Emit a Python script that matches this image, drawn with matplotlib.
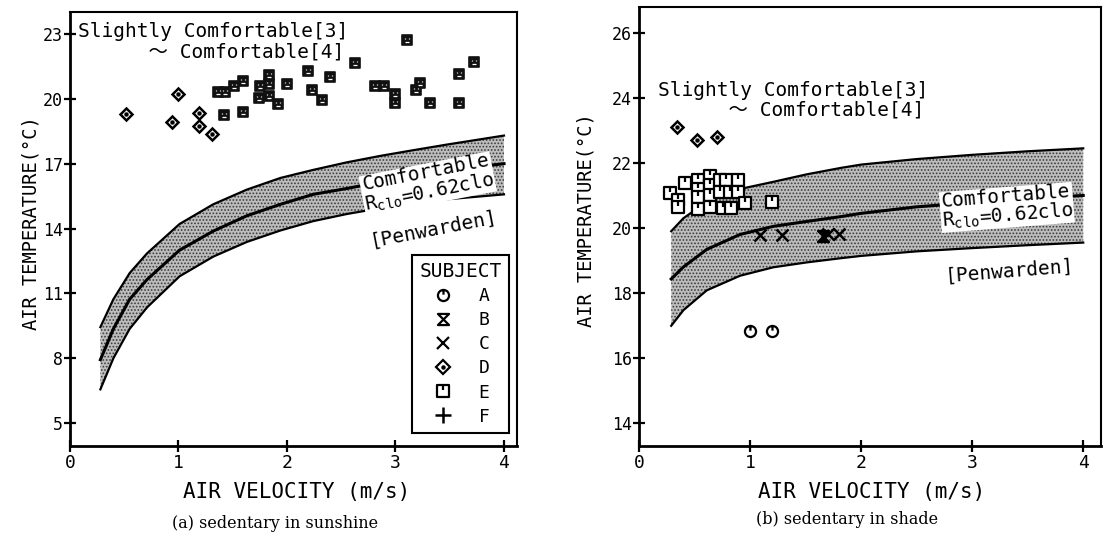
import matplotlib
matplotlib.use("Agg")
import matplotlib.pyplot as plt
from matplotlib.path import Path
from matplotlib.lines import Line2D
from matplotlib.legend_handler import HandlerTuple

plt.rcParams['font.family'] = ['DejaVu Sans Mono', 'DejaVu Sans']
plt.rcParams['mathtext.fontset'] = 'custom'
plt.rcParams['mathtext.rm'] = 'DejaVu Sans Mono'
plt.rcParams['mathtext.it'] = 'DejaVu Sans Mono'
plt.rcParams['hatch.linewidth'] = 0.8

# ---------------- (a) sedentary in sunshine ----------------
band_a_v = [0.28, 0.40, 0.55, 0.71, 1.01, 1.32, 1.63, 1.94, 2.24, 2.55, 2.86, 3.16, 3.47, 4.00]
band_a_upper = [9.44, 10.73, 11.94, 12.85, 14.21, 15.12, 15.80, 16.34, 16.71, 17.06, 17.36, 17.62, 17.88, 18.30]
band_a_center = [7.93, 9.36, 10.73, 11.64, 13.00, 13.88, 14.59, 15.12, 15.58, 15.85, 16.15, 16.42, 16.68, 17.00]
band_a_lower = [6.56, 8.00, 9.36, 10.35, 11.79, 12.70, 13.38, 13.91, 14.34, 14.67, 14.94, 15.17, 15.35, 15.58]

subj_d_a_v = [0.52, 1.00, 0.94, 1.19, 1.19, 1.31]
subj_d_a_t = [19.29, 20.24, 18.94, 19.33, 18.76, 18.36]

subj_e_a_v = [1.36, 1.43, 1.51, 1.59, 1.42, 1.59, 1.75, 1.83, 1.83, 1.74, 1.83, 1.92, 2.00,
              2.19, 2.23, 2.32, 2.40, 2.63, 2.81, 2.89, 3.00, 3.00, 3.11, 3.19, 3.23, 3.32,
              3.59, 3.59, 3.72]
subj_e_a_t = [20.30, 20.30, 20.61, 20.83, 19.26, 19.41, 20.61, 21.08, 20.70, 20.05, 20.15, 19.74, 20.70,
              21.30, 20.39, 19.94, 21.03, 21.67, 20.58, 20.58, 20.20, 19.79, 22.74, 20.42, 20.73, 19.79,
              21.14, 19.82, 21.71]

yticks_a = [5, 8, 11, 14, 17, 20, 23]

# ---------------- (b) sedentary in shade ----------------
band_b_v = [0.29, 0.40, 0.61, 0.91, 1.21, 1.51, 1.82, 2.00, 2.50, 3.00, 3.50, 4.00]
band_b_upper = [19.90, 20.30, 20.80, 21.20, 21.42, 21.65, 21.85, 21.95, 22.12, 22.25, 22.36, 22.45]
band_b_center = [18.43, 18.80, 19.34, 19.80, 20.05, 20.20, 20.35, 20.45, 20.65, 20.78, 20.90, 21.00]
band_b_lower = [16.99, 17.47, 18.08, 18.53, 18.79, 18.94, 19.07, 19.14, 19.28, 19.38, 19.47, 19.55]

subj_a_b_v = [1.00, 1.20]
subj_a_b_t = [16.82, 16.82]
subj_b_b_v = [1.66]
subj_b_b_t = [19.74]
subj_c_b_v = [1.09, 1.29, 1.70, 1.80]
subj_c_b_t = [19.78, 19.78, 19.82, 19.80]
subj_d_b_v = [0.34, 0.52, 0.70]
subj_d_b_t = [23.10, 22.70, 22.81]
subj_e_b_v = [0.28, 0.35, 0.35, 0.41, 0.53, 0.53, 0.53, 0.53, 0.64, 0.64, 0.64, 0.64,
              0.73, 0.78, 0.73, 0.82, 0.76, 0.83, 0.89, 0.89, 0.95, 1.20]
subj_e_b_t = [21.09, 20.85, 20.65, 21.39, 21.49, 21.21, 20.96, 20.59, 21.60, 21.31, 21.01, 20.66,
              21.49, 21.49, 21.11, 21.11, 20.61, 20.61, 21.49, 21.11, 20.76, 20.79]

yticks_b = [14, 16, 18, 20, 22, 24, 26]
xticks = [0, 1, 2, 3, 4]

subjects = ['A', 'B', 'C', 'D', 'E', 'F']
comfort_range = 'Slightly Comfortable[3]\n      \u301c Comfortable[4]'

# ---------------- marker shapes ----------------
M, L, C = Path.MOVETO, Path.LINETO, Path.CLOSEPOLY
circle_tick = Path.make_compound_path(Path.unit_circle(), Path([(0, 1), (0, 0.15)], [M, L]))
hourglass = Path([(-1, 1), (1, 1), (-1, -1), (1, -1), (-1, 1)], [M, L, L, L, C])
square_tick = Path.make_compound_path(
    Path([(-1, -1), (1, -1), (1, 1), (-1, 1), (-1, -1)], [M, L, L, L, C]),
    Path([(0, 1), (0, 0.15)], [M, L]))
face_marks = Path([(-0.4, 0.45), (-0.4, 0.15), (0.4, 0.45), (0.4, 0.15), (-0.3, -0.4), (0.3, -0.4)],
                  [M, L, M, L, M, L])

fig = plt.figure(figsize=(11.08, 5.36), dpi=100)
W, H = 1108, 536
ax_a = fig.add_axes([70 / W, 1 - 446 / H, 447 / W, 434.3 / H])
ax_b = fig.add_axes([639 / W, 1 - 446 / H, 462 / W, 439 / H])


def draw_band(ax, v, lower, center, upper):
    ax.fill_between(v, lower, upper, facecolor='#bdbdbd', edgecolor='#3c3c3c',
                    hatch='.....', linewidth=0, zorder=1)
    ax.plot(v, upper, color='black', lw=1.6, zorder=2)
    ax.plot(v, lower, color='black', lw=1.6, zorder=2)
    ax.plot(v, center, color='black', lw=2.2, zorder=2)


def style_axes(ax, xlim, ylim, yticks):
    ax.set_xlim(*xlim)
    ax.set_ylim(*ylim)
    ax.set_xticks(xticks)
    ax.set_yticks(yticks)
    ax.tick_params(direction='inout', length=8, width=1.6, labelsize=12, colors='black')
    ax.tick_params(axis='x', labelsize=13, pad=2)
    ax.tick_params(axis='y', pad=1)
    for side in ('left', 'bottom'):
        ax.spines[side].set_linewidth(2.0)
    for side in ('top', 'right'):
        ax.spines[side].set_linewidth(1.5)


def diamond(ax, v, t, ms):
    ax.plot(v, t, ls='none', marker='D', ms=ms, mfc='white', mec='black', mew=1.8, zorder=4)
    ax.plot(v, t, ls='none', marker='o', ms=2.2, mfc='black', mec='black', zorder=5)


def comfort_labels(ax, x_top, y_top, x_band, y_band, x_pen, y_pen, angle):
    ax.text(x_top, y_top, comfort_range, transform=ax.transAxes, fontsize=14,
            ha='left', va='center', linespacing=1.05,
            family=['DejaVu Sans Mono', 'Noto Sans CJK JP'])
    ax.text(x_band, y_band, 'Comfortable\nR$_{\\mathrm{clo}}$=0.62clo', transform=ax.transAxes,
            fontsize=14, ha='center', va='center', rotation=angle, rotation_mode='anchor',
            linespacing=0.95, zorder=6,
            bbox=dict(facecolor='white', edgecolor='none', pad=0.5))
    ax.text(x_pen, y_pen, '[Penwarden]', transform=ax.transAxes, fontsize=14,
            ha='center', va='center', rotation=angle, rotation_mode='anchor', zorder=6,
            bbox=dict(facecolor='white', edgecolor='none', pad=0.5))


# panel (a)
draw_band(ax_a, band_a_v, band_a_lower, band_a_center, band_a_upper)
diamond(ax_a, subj_d_a_v, subj_d_a_t, 6.5)
ax_a.plot(subj_e_a_v, subj_e_a_t, ls='none', marker=square_tick, ms=7.5, mfc='#111111',
          mec='#111111', mew=1.2, zorder=4)
ax_a.plot(subj_e_a_v, subj_e_a_t, ls='none', marker=face_marks, ms=7.5 * 0.45, mfc='none',
          mec='white', mew=0.9, zorder=5)
style_axes(ax_a, (0, 4.12), (3.94, 24.03), yticks_a)
comfort_labels(ax_a, 0.018, 0.931, 0.800, 0.605, 0.814, 0.50, 11)

# subject legend
mk = dict(ls='none', mfc='white', mec='black', mew=1.6)
handles = [
    Line2D([], [], marker=circle_tick, ms=8, **mk),
    Line2D([], [], marker=hourglass, ms=8, **mk),
    Line2D([], [], marker='x', ms=9, color='black', ls='none', mew=1.6),
    (Line2D([], [], marker='D', ms=7, **mk),
     Line2D([], [], marker='o', ms=2.2, color='black', ls='none')),
    Line2D([], [], marker=square_tick, ms=8, **mk),
    Line2D([], [], marker='+', ms=11, color='black', ls='none', mew=1.8),
]
leg = ax_a.legend(handles, subjects, title='SUBJECT', loc='lower right',
                  bbox_to_anchor=(0.982, 0.03), frameon=True, fancybox=False,
                  edgecolor='black', framealpha=1, fontsize=13, title_fontsize=14,
                  handlelength=1.3, handletextpad=1.3, labelspacing=0.34,
                  borderpad=0.4, borderaxespad=0,
                  handler_map={tuple: HandlerTuple(ndivide=1, pad=0)})
leg.get_frame().set_linewidth(1.5)
leg.set_zorder(7)

# panel (b)
draw_band(ax_b, band_b_v, band_b_lower, band_b_center, band_b_upper)
diamond(ax_b, subj_d_b_v, subj_d_b_t, 6.5)
ax_b.plot(subj_a_b_v, subj_a_b_t, marker=circle_tick, ms=8, zorder=4, **mk)
ax_b.plot(subj_b_b_v, subj_b_b_t, marker=hourglass, ms=8, zorder=4, ls='none',
          mfc='black', mec='black', mew=1.6)
ax_b.plot(subj_c_b_v, subj_c_b_t, ls='none', marker='x', ms=9, color='black', mew=1.8, zorder=4)
ax_b.plot(subj_e_b_v, subj_e_b_t, marker=square_tick, ms=8, zorder=4, **mk)
style_axes(ax_b, (0, 4.16), (13.29, 26.8), yticks_b)
comfort_labels(ax_b, 0.041, 0.788, 0.796, 0.545, 0.801, 0.399, 4.5)

# axis titles and captions
fig.text(31 / W, 1 - 223 / H, 'AIR TEMPERATURE(\u00b0C)', rotation=90, fontsize=13.5,
         ha='center', va='center')
fig.text(586 / W, 1 - 220 / H, 'AIR TEMPERATURE(\u00b0C)', rotation=90, fontsize=13.5,
         ha='center', va='center')
fig.text(297 / W, 1 - 492 / H, 'AIR VELOCITY (m/s)', fontsize=15, ha='center', va='center')
fig.text(872 / W, 1 - 492 / H, 'AIR VELOCITY (m/s)', fontsize=15, ha='center', va='center')
fig.text(275 / W, 1 - 523 / H, '(a) sedentary in sunshine', fontsize=11.5,
         family='DejaVu Serif', ha='center', va='center')
fig.text(847 / W, 1 - 520 / H, '(b) sedentary in shade', fontsize=11.5,
         family='DejaVu Serif', ha='center', va='center')

fig.savefig('out.png', dpi=100, facecolor='white')
